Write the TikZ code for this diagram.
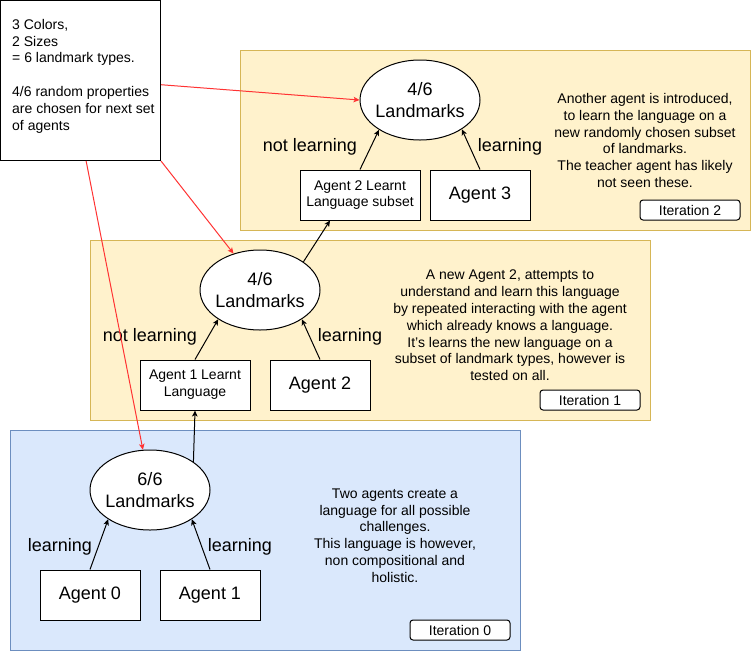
\documentclass[tikz,border=0pt]{standalone}
\usepackage{fontspec}
\setmainfont{Liberation Sans}
\usetikzlibrary{shapes.geometric,arrows.meta}
\definecolor{yellowfill}{HTML}{FFF2CC}
\definecolor{yellowline}{HTML}{D6B656}
\definecolor{bluefill}{HTML}{DAE8FC}
\definecolor{blueline}{HTML}{6C8EBF}
\definecolor{linkred}{HTML}{FF3333}
\begin{document}
\begin{tikzpicture}[x=1pt,y=-1pt,
  small/.style={font=\fontsize{14}{16.8}\selectfont},
  big/.style={font=\fontsize{18}{21.6}\selectfont},
  panel/.style={draw=#1line, fill=#1fill, line width=1pt},
  agentbox/.style={draw, fill=white, line width=1pt, inner sep=0pt,
    minimum width=100pt, minimum height=50pt, align=center},
  lm/.style={ellipse, draw, fill=white, line width=1pt, inner sep=0pt,
    minimum width=120pt, minimum height=80pt},
  lmtext/.style={big, align=center},
  tag/.style={draw, fill=white, line width=1pt, rounded corners=3pt, inner sep=0pt,
    minimum width=100pt, minimum height=20pt, small},
  desc/.style={small, align=center},
  edgelabel/.style={big},
  arr/.style={line width=1pt, -{Stealth[length=6pt,width=5.5pt,inset=1.5pt]}},
  redarr/.style={draw=linkred, line width=1pt, -{Stealth[length=6pt,width=5.5pt,inset=1.5pt]}, color=linkred},
]
\useasboundingbox (0,0) rectangle (751,651);

% iteration panels
\draw[panel=yellow] (240,50) rectangle (750,230);
\draw[panel=yellow] (90,240) rectangle (650,420);
\draw[panel=blue] (10,430) rectangle (520,650);

% note with the landmark counts
\node[draw, fill=white, line width=1pt, minimum width=160pt, minimum height=160pt, inner sep=0pt]
  (note) at (80.5,80.5) {};
\node[small, align=left, anchor=west, inner sep=0pt] (notetext) at (12,76)
  {3 Colors,\\2 Sizes\\= 6 landmark types.\\[16.8pt]4/6 random properties\\are chosen for next set\\of agents};

% iteration 2
\node[lm] (e2) at (420,100) {};
\node[lmtext] (e2t) at (e2.center) {4/6\\Landmarks};
\node[agentbox, small, minimum width=120pt] (a2l) at (360,195) {Agent 2 Learnt\\Language subset};
\node[agentbox, big] (ag3) at (480,195) {Agent 3};
\node[edgelabel] (nl2) at (310,146.5) {not learning};
\node[edgelabel] (l2) at (510,146.5) {learning};
\node[desc] (d2) at (645,140.5) {Another agent is introduced,\\to learn the language on a\\new randomly chosen subset\\of landmarks.\\The teacher agent has likely\\not seen these.};
\node[tag] (it2) at (690,210) {Iteration 2};

% iteration 1
\node[lm] (e1) at (260,290) {};
\node[lmtext] (e1t) at (e1.center) {4/6\\Landmarks};
\node[agentbox, small, minimum width=110pt] (a1l) at (195,385) {Agent 1 Learnt\\Language};
\node[agentbox, big] (ag2) at (320,385) {Agent 2};
\node[edgelabel] (nl1) at (150,336.5) {not learning};
\node[edgelabel] (l1) at (350,336.5) {learning};
\node[desc] (d1) at (510,325.5) {A new Agent 2, attempts to\\understand and learn this language\\by repeated interacting with the agent\\which already knows a language.\\It's learns the new language on a\\subset of landmark types, however is\\tested on all.};
\node[tag] (it1) at (590,400) {Iteration 1};

% iteration 0
\node[lm] (e0) at (150,490) {};
\node[lmtext] (e0t) at (e0.center) {6/6\\Landmarks};
\node[agentbox, big] (ag0) at (90,595) {Agent 0};
\node[agentbox, big] (ag1) at (210,595) {Agent 1};
\node[edgelabel] (l0a) at (60,546.5) {learning};
\node[edgelabel] (l0b) at (240,546.5) {learning};
\node[desc] (d0) at (395,535.5) {Two agents create a\\language for all possible\\challenges.\\This language is however,\\non compositional and\\holistic.};
\node[tag] (it0) at (460,630) {Iteration 0};

% agent arrows
\draw[arr] (ag0.north) -- (e0.215);
\draw[arr] (ag1.north) -- (e0.325);
\draw[arr] (e0.33) -- (a1l.south);
\draw[arr] (a1l.north) -- (e1.215);
\draw[arr] (ag2.north) -- (e1.325);
\draw[arr] (e1.33) -- ([xshift=-30pt]a2l.south);
\draw[arr] (a2l.north) -- (e2.216);
\draw[arr] (ag3.north) -- (e2.325);

% links from the note
\draw[redarr] (note.-3.6) -- (e2.180);
\draw[redarr] (note.south east) -- (e1.126);
\draw[redarr] (note.-86.4) -- (e0.100);
\end{tikzpicture}
\end{document}
